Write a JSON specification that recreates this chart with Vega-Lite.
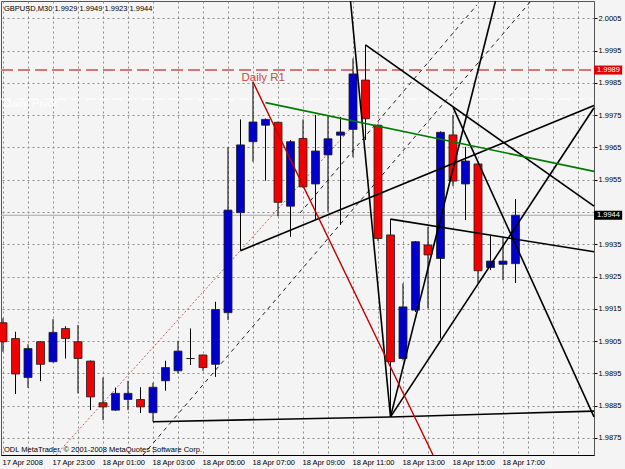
{
  "$schema": "https://vega.github.io/schema/vega-lite/v6.json",
  "width": 593,
  "height": 454,
  "autosize": {"type": "none"},
  "padding": {"left": 1, "top": 1, "right": 31, "bottom": 14},
  "background": "#f4f4f4",
  "config": {
    "view": {"stroke": "#555555", "strokeWidth": 1},
    "axis": {"labelFont": "Liberation Sans", "labelFontSize": 7.5, "labelColor": "#000000", "gridColor": "#8c8c8c", "gridDash": [2, 3], "gridWidth": 1}
  },
  "datasets": {
    "candles": [
      {"t": "2008-04-17T21:00:00Z", "o": 1.99107, "h": 1.99121, "l": 1.99017, "c": 1.99048},
      {"t": "2008-04-17T21:30:00Z", "o": 1.99058, "h": 1.99079, "l": 1.98886, "c": 1.98948},
      {"t": "2008-04-17T22:00:00Z", "o": 1.98937, "h": 1.99040, "l": 1.98905, "c": 1.99027},
      {"t": "2008-04-17T22:30:00Z", "o": 1.99048, "h": 1.99050, "l": 1.98926, "c": 1.98978},
      {"t": "2008-04-17T23:00:00Z", "o": 1.98986, "h": 1.99118, "l": 1.98984, "c": 1.99077},
      {"t": "2008-04-17T23:30:00Z", "o": 1.99089, "h": 1.99096, "l": 1.98996, "c": 1.99058},
      {"t": "2008-04-18T00:00:00Z", "o": 1.99048, "h": 1.99100, "l": 1.98888, "c": 1.98996},
      {"t": "2008-04-18T00:30:00Z", "o": 1.98988, "h": 1.98990, "l": 1.98836, "c": 1.98877},
      {"t": "2008-04-18T01:00:00Z", "o": 1.98859, "h": 1.98937, "l": 1.98805, "c": 1.98846},
      {"t": "2008-04-18T01:30:00Z", "o": 1.98836, "h": 1.98906, "l": 1.98834, "c": 1.98888},
      {"t": "2008-04-18T02:00:00Z", "o": 1.98869, "h": 1.98927, "l": 1.98836, "c": 1.98888},
      {"t": "2008-04-18T02:30:00Z", "o": 1.98869, "h": 1.98907, "l": 1.98827, "c": 1.98846},
      {"t": "2008-04-18T03:00:00Z", "o": 1.98828, "h": 1.98921, "l": 1.98800, "c": 1.98907},
      {"t": "2008-04-18T03:30:00Z", "o": 1.98927, "h": 1.98989, "l": 1.98896, "c": 1.98968},
      {"t": "2008-04-18T04:00:00Z", "o": 1.98958, "h": 1.99051, "l": 1.98950, "c": 1.99019},
      {"t": "2008-04-18T04:30:00Z", "o": 1.98996, "h": 1.99089, "l": 1.98976, "c": 1.98996},
      {"t": "2008-04-18T05:00:00Z", "o": 1.99007, "h": 1.99008, "l": 1.98958, "c": 1.98968},
      {"t": "2008-04-18T05:30:00Z", "o": 1.98978, "h": 1.99172, "l": 1.98939, "c": 1.99148},
      {"t": "2008-04-18T06:00:00Z", "o": 1.99138, "h": 1.99651, "l": 1.99115, "c": 1.99456},
      {"t": "2008-04-18T06:30:00Z", "o": 1.99448, "h": 1.99737, "l": 1.99330, "c": 1.99658},
      {"t": "2008-04-18T07:00:00Z", "o": 1.99668, "h": 1.99854, "l": 1.99606, "c": 1.99729},
      {"t": "2008-04-18T07:30:00Z", "o": 1.99719, "h": 1.99740, "l": 1.99547, "c": 1.99737},
      {"t": "2008-04-18T08:00:00Z", "o": 1.99728, "h": 1.99730, "l": 1.99437, "c": 1.99480},
      {"t": "2008-04-18T08:30:00Z", "o": 1.99468, "h": 1.99673, "l": 1.99373, "c": 1.99668},
      {"t": "2008-04-18T09:00:00Z", "o": 1.99678, "h": 1.99737, "l": 1.99525, "c": 1.99528},
      {"t": "2008-04-18T09:30:00Z", "o": 1.99537, "h": 1.99751, "l": 1.99425, "c": 1.99639},
      {"t": "2008-04-18T10:00:00Z", "o": 1.99627, "h": 1.99747, "l": 1.99451, "c": 1.99677},
      {"t": "2008-04-18T10:30:00Z", "o": 1.99688, "h": 1.99745, "l": 1.99410, "c": 1.99698},
      {"t": "2008-04-18T11:00:00Z", "o": 1.99706, "h": 1.99926, "l": 1.99620, "c": 1.99878},
      {"t": "2008-04-18T11:30:00Z", "o": 1.99859, "h": 1.99968, "l": 1.99673, "c": 1.99739},
      {"t": "2008-04-18T12:00:00Z", "o": 1.99719, "h": 1.99722, "l": 1.99360, "c": 1.99368},
      {"t": "2008-04-18T12:30:00Z", "o": 1.99379, "h": 1.99428, "l": 1.98815, "c": 1.98986},
      {"t": "2008-04-18T13:00:00Z", "o": 1.98996, "h": 1.99229, "l": 1.98990, "c": 1.99156},
      {"t": "2008-04-18T13:30:00Z", "o": 1.99146, "h": 1.99360, "l": 1.99140, "c": 1.99358},
      {"t": "2008-04-18T14:00:00Z", "o": 1.99348, "h": 1.99404, "l": 1.99151, "c": 1.99317},
      {"t": "2008-04-18T14:30:00Z", "o": 1.99306, "h": 1.99700, "l": 1.99058, "c": 1.99697},
      {"t": "2008-04-18T15:00:00Z", "o": 1.99689, "h": 1.99751, "l": 1.99530, "c": 1.99546},
      {"t": "2008-04-18T15:30:00Z", "o": 1.99537, "h": 1.99652, "l": 1.99425, "c": 1.99608},
      {"t": "2008-04-18T16:00:00Z", "o": 1.99599, "h": 1.99600, "l": 1.99229, "c": 1.99268},
      {"t": "2008-04-18T16:30:00Z", "o": 1.99278, "h": 1.99379, "l": 1.99270, "c": 1.99298},
      {"t": "2008-04-18T17:00:00Z", "o": 1.99288, "h": 1.99373, "l": 1.99239, "c": 1.99298},
      {"t": "2008-04-18T17:30:00Z", "o": 1.9929, "h": 1.9949, "l": 1.9923, "c": 1.9944}
    ],
    "lines": [
      {"id": "r1level", "g": "r1dash", "t": "2008-04-17T20:55:12Z", "p": 1.9989},
      {"id": "r1level", "g": "r1dash", "t": "2008-04-18T20:38:24Z", "p": 1.9989},
      {"id": "pivot", "g": "pivot", "t": "2008-04-17T20:55:12Z", "p": 1.9980},
      {"id": "pivot", "g": "pivot", "t": "2008-04-18T20:38:24Z", "p": 1.9980},
      {"id": "bid", "g": "bid", "t": "2008-04-17T20:55:12Z", "p": 1.9944},
      {"id": "bid", "g": "bid", "t": "2008-04-18T20:38:24Z", "p": 1.9944},
      {"id": "pink", "g": "pink", "t": "2008-04-17T23:07:12Z", "p": 1.98697},
      {"id": "pink", "g": "pink", "t": "2008-04-18T10:57:00Z", "p": 1.99713},
      {"id": "d1", "g": "dash", "t": "2008-04-18T02:36:00Z", "p": 1.98697},
      {"id": "d1", "g": "dash", "t": "2008-04-18T18:07:12Z", "p": 2.00104},
      {"id": "d2", "g": "dash", "t": "2008-04-18T08:52:48Z", "p": 1.99447},
      {"id": "d2", "g": "dash", "t": "2008-04-18T15:57:36Z", "p": 2.00092},
      {"id": "L1", "g": "black", "t": "2008-04-18T03:00:00Z", "p": 1.98800},
      {"id": "L1", "g": "black", "t": "2008-04-18T12:30:00Z", "p": 1.98815},
      {"id": "L2", "g": "black", "t": "2008-04-18T12:30:00Z", "p": 1.98815},
      {"id": "L2", "g": "black", "t": "2008-04-18T20:38:24Z", "p": 1.98833},
      {"id": "L3", "g": "black", "t": "2008-04-18T12:30:00Z", "p": 1.98815},
      {"id": "L3", "g": "black", "t": "2008-04-18T16:42:00Z", "p": 2.00104},
      {"id": "L4", "g": "black", "t": "2008-04-18T06:30:00Z", "p": 1.99330},
      {"id": "L4", "g": "black", "t": "2008-04-18T20:38:24Z", "p": 1.99780},
      {"id": "L5", "g": "black", "t": "2008-04-18T12:30:00Z", "p": 1.98815},
      {"id": "L5", "g": "black", "t": "2008-04-18T20:38:24Z", "p": 1.99773},
      {"id": "L6", "g": "black", "t": "2008-04-18T10:54:00Z", "p": 2.00104},
      {"id": "L6", "g": "black", "t": "2008-04-18T12:30:00Z", "p": 1.98815},
      {"id": "L7", "g": "black", "t": "2008-04-18T15:00:00Z", "p": 1.99775},
      {"id": "L7", "g": "black", "t": "2008-04-18T20:38:24Z", "p": 1.98815},
      {"id": "L8", "g": "black", "t": "2008-04-18T11:30:00Z", "p": 1.99968},
      {"id": "L8", "g": "black", "t": "2008-04-18T20:38:24Z", "p": 1.99468},
      {"id": "L9", "g": "black", "t": "2008-04-18T12:30:00Z", "p": 1.99428},
      {"id": "L9", "g": "black", "t": "2008-04-18T20:38:24Z", "p": 1.99327},
      {"id": "green", "g": "green", "t": "2008-04-18T07:30:00Z", "p": 1.99789},
      {"id": "green", "g": "green", "t": "2008-04-18T20:38:24Z", "p": 1.99576},
      {"id": "red", "g": "red", "t": "2008-04-18T07:00:00Z", "p": 1.99853},
      {"id": "red", "g": "red", "t": "2008-04-18T14:12:00Z", "p": 1.98697}
    ],
    "boxes": [
      {"p": 1.9989, "t": "2008-04-18T20:38:24Z", "t2": "2008-04-18T21:46:00Z", "text": "1.9989"},
      {"p": 1.9944, "t": "2008-04-18T20:38:24Z", "t2": "2008-04-18T21:46:00Z", "text": "1.9944"}
    ],
    "labels": [
      {"kind": "header", "t": "2008-04-17T20:55:12Z", "p": 2.00074, "text": "GBPUSD,M30  1.9929 1.9949 1.9923 1.9944"},
      {"kind": "copy", "t": "2008-04-17T20:55:12Z", "p": 1.98707, "text": "ODL MetaTrader, © 2001-2008 MetaQuotes Software Corp."},
      {"kind": "r1", "t": "2008-04-18T06:30:00Z", "p": 1.99856, "text": "Daily R1"},
      {"kind": "pivot", "t": "2008-04-17T20:55:12Z", "p": 1.99774, "text": "Daily Pivot"}
    ]
  },
  "encoding": {
    "x": {"field": "t", "type": "temporal", "title": null,
      "scale": {"type": "utc", "nice": false, "padding": 0, "domain": [{"year": 2008, "month": 4, "date": 17, "hours": 20, "minutes": 55, "seconds": 12, "utc": true}, {"year": 2008, "month": 4, "date": 18, "hours": 20, "minutes": 38, "seconds": 24, "utc": true}]},
      "axis": {"orient": "bottom", "grid": true, "ticks": false, "domain": true, "domainColor": "#000000", "labelAlign": "left", "labelBaseline": "top", "labelPadding": 3, "labelOffset": -1, "labelOverlap": false, "labelFlush": false, "labelBound": false,
        "values": [
          {"year": 2008, "month": 4, "date": 17, "hours": 21, "utc": true},
          {"year": 2008, "month": 4, "date": 17, "hours": 22, "utc": true},
          {"year": 2008, "month": 4, "date": 17, "hours": 23, "utc": true},
          {"year": 2008, "month": 4, "date": 18, "hours": 0, "utc": true},
          {"year": 2008, "month": 4, "date": 18, "hours": 1, "utc": true},
          {"year": 2008, "month": 4, "date": 18, "hours": 2, "utc": true},
          {"year": 2008, "month": 4, "date": 18, "hours": 3, "utc": true},
          {"year": 2008, "month": 4, "date": 18, "hours": 4, "utc": true},
          {"year": 2008, "month": 4, "date": 18, "hours": 5, "utc": true},
          {"year": 2008, "month": 4, "date": 18, "hours": 6, "utc": true},
          {"year": 2008, "month": 4, "date": 18, "hours": 7, "utc": true},
          {"year": 2008, "month": 4, "date": 18, "hours": 8, "utc": true},
          {"year": 2008, "month": 4, "date": 18, "hours": 9, "utc": true},
          {"year": 2008, "month": 4, "date": 18, "hours": 10, "utc": true},
          {"year": 2008, "month": 4, "date": 18, "hours": 11, "utc": true},
          {"year": 2008, "month": 4, "date": 18, "hours": 12, "utc": true},
          {"year": 2008, "month": 4, "date": 18, "hours": 13, "utc": true},
          {"year": 2008, "month": 4, "date": 18, "hours": 14, "utc": true},
          {"year": 2008, "month": 4, "date": 18, "hours": 15, "utc": true},
          {"year": 2008, "month": 4, "date": 18, "hours": 16, "utc": true},
          {"year": 2008, "month": 4, "date": 18, "hours": 17, "utc": true},
          {"year": 2008, "month": 4, "date": 18, "hours": 18, "utc": true},
          {"year": 2008, "month": 4, "date": 18, "hours": 19, "utc": true},
          {"year": 2008, "month": 4, "date": 18, "hours": 20, "utc": true}
        ],
        "labelExpr": "(utchours(datum.value) % 2 == 0 || (utcdate(datum.value) == 18 && utchours(datum.value) > 17)) ? '' : ((utcdate(datum.value) == 17 && utchours(datum.value) == 21) ? '17 Apr 2008' : utcFormat(datum.value, '%d %b %H:%M'))"}},
    "y": {"field": "p", "type": "quantitative", "title": null,
      "scale": {"domain": [1.98697, 2.00104], "zero": false, "nice": false, "padding": 0},
      "axis": {"orient": "right", "grid": true, "ticks": true, "tickSize": 3, "tickColor": "#000000", "domain": false, "labelPadding": 1, "labelAlign": "left", "labelBaseline": "middle",
        "labelExpr": "abs(datum.value - 1.9945) < 0.00001 ? '' : format(datum.value, '.4f')",
        "values": [1.9875, 1.9885, 1.9895, 1.9905, 1.9915, 1.9925, 1.9935, 1.9945, 1.9955, 1.9965, 1.9975, 1.9985, 1.9995, 2.0005]}}
  },
  "layer": [
    {
      "data": {"name": "lines"},
      "transform": [{"filter": "datum.g == 'r1dash'"}],
      "mark": {"type": "line", "color": "#cf7a7a", "strokeWidth": 2, "strokeDash": [12, 5]},
      "encoding": {"detail": {"field": "id"}}
    },
    {
      "data": {"name": "lines"},
      "transform": [{"filter": "datum.g == 'pivot'"}],
      "mark": {"type": "line", "color": "#ffffff", "strokeWidth": 1, "strokeDash": [10, 4]},
      "encoding": {"detail": {"field": "id"}}
    },
    {
      "data": {"name": "lines"},
      "transform": [{"filter": "datum.g == 'bid'"}],
      "mark": {"type": "line", "color": "#a8a8a8", "strokeWidth": 1},
      "encoding": {"detail": {"field": "id"}}
    },
    {
      "data": {"name": "lines"},
      "transform": [{"filter": "datum.g == 'pink'"}],
      "mark": {"type": "line", "color": "#c06060", "strokeWidth": 1, "strokeDash": [2, 2]},
      "encoding": {"detail": {"field": "id"}}
    },
    {
      "data": {"name": "lines"},
      "transform": [{"filter": "datum.g == 'dash'"}],
      "mark": {"type": "line", "color": "#202020", "strokeWidth": 1, "strokeDash": [4, 4]},
      "encoding": {"detail": {"field": "id"}}
    },
    {
      "data": {"name": "candles"},
      "mark": {"type": "rule", "color": "#000000", "strokeWidth": 1},
      "encoding": {
        "y": {"field": "l", "type": "quantitative", "title": null,
          "scale": {"domain": [1.98697, 2.00104], "zero": false, "nice": false, "padding": 0},
          "axis": {"orient": "right", "grid": true, "ticks": true, "tickSize": 3, "tickColor": "#000000", "domain": false, "labelPadding": 1, "labelAlign": "left", "labelBaseline": "middle",
            "labelExpr": "abs(datum.value - 1.9945) < 0.00001 ? '' : format(datum.value, '.4f')",
            "values": [1.9875, 1.9885, 1.9895, 1.9905, 1.9915, 1.9925, 1.9935, 1.9945, 1.9955, 1.9965, 1.9975, 1.9985, 1.9995, 2.0005]}},
        "y2": {"field": "h"}
      }
    },
    {
      "data": {"name": "candles"},
      "mark": {"type": "bar", "size": 8, "stroke": "#202020", "strokeWidth": 0.8},
      "encoding": {
        "y": {"field": "o", "type": "quantitative", "title": null,
          "scale": {"domain": [1.98697, 2.00104], "zero": false, "nice": false, "padding": 0},
          "axis": {"orient": "right", "grid": true, "ticks": true, "tickSize": 3, "tickColor": "#000000", "domain": false, "labelPadding": 1, "labelAlign": "left", "labelBaseline": "middle",
            "labelExpr": "abs(datum.value - 1.9945) < 0.00001 ? '' : format(datum.value, '.4f')",
            "values": [1.9875, 1.9885, 1.9895, 1.9905, 1.9915, 1.9925, 1.9935, 1.9945, 1.9955, 1.9965, 1.9975, 1.9985, 1.9995, 2.0005]}},
        "y2": {"field": "c"},
        "color": {"condition": [{"test": "datum.c > datum.o", "value": "#0000c8"}, {"test": "datum.c < datum.o", "value": "#f00000"}], "value": "#000000"}
      }
    },
    {
      "data": {"name": "lines"},
      "transform": [{"filter": "datum.g == 'black'"}],
      "mark": {"type": "line", "color": "#000000", "strokeWidth": 1.6},
      "encoding": {"detail": {"field": "id"}}
    },
    {
      "data": {"name": "lines"},
      "transform": [{"filter": "datum.g == 'green'"}],
      "mark": {"type": "line", "color": "#007a00", "strokeWidth": 1.6},
      "encoding": {"detail": {"field": "id"}}
    },
    {
      "data": {"name": "lines"},
      "transform": [{"filter": "datum.g == 'red'"}],
      "mark": {"type": "line", "color": "#c00000", "strokeWidth": 1.4},
      "encoding": {"detail": {"field": "id"}}
    },
    {
      "data": {"name": "boxes"},
      "mark": {"type": "rule", "strokeWidth": 9},
      "encoding": {
        "x2": {"field": "t2"},
        "color": {"condition": {"test": "datum.p > 1.996", "value": "#e00000"}, "value": "#000000"}
      }
    },
    {
      "data": {"name": "boxes"},
      "mark": {"type": "text", "align": "left", "baseline": "middle", "dx": 3, "color": "#ffffff", "font": "Liberation Sans", "fontSize": 7.5},
      "encoding": {"text": {"field": "text"}}
    },
    {
      "data": {"name": "labels"},
      "transform": [{"filter": "datum.kind == 'header' || datum.kind == 'copy'"}],
      "mark": {"type": "text", "align": "left", "baseline": "alphabetic", "dx": 3, "color": "#000000", "font": "Liberation Sans", "fontSize": 7.5},
      "encoding": {"text": {"field": "text"}}
    },
    {
      "data": {"name": "labels"},
      "transform": [{"filter": "datum.kind == 'r1'"}],
      "mark": {"type": "text", "align": "left", "baseline": "alphabetic", "dx": 1, "color": "#c84848", "font": "Liberation Sans", "fontSize": 11.5},
      "encoding": {"text": {"field": "text"}}
    },
    {
      "data": {"name": "labels"},
      "transform": [{"filter": "datum.kind == 'pivot'"}],
      "mark": {"type": "text", "align": "left", "baseline": "alphabetic", "dx": 2, "color": "#ffffff", "font": "Liberation Sans", "fontSize": 11.5},
      "encoding": {"text": {"field": "text"}}
    }
  ]
}
